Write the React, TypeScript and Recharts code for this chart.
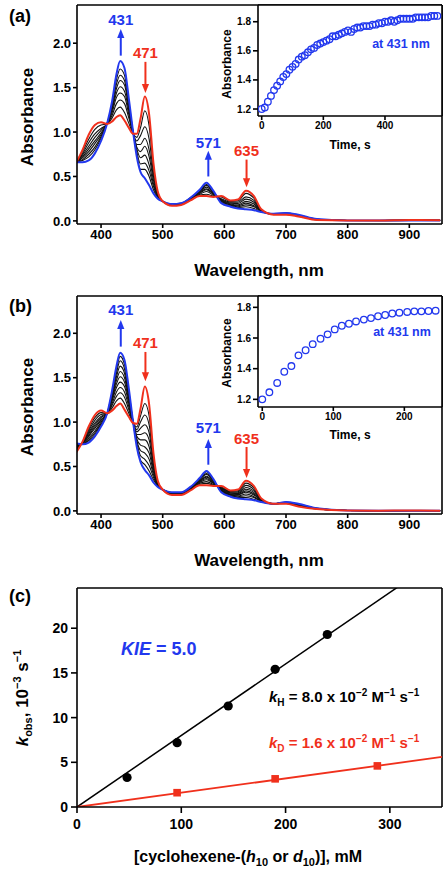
import React from 'react'
import {
  ComposedChart, LineChart, Line, Scatter, XAxis, YAxis,
  ReferenceLine, ReferenceDot, CartesianGrid,
} from 'recharts'

const FONT = '"Liberation Sans", Arial, Helvetica, sans-serif'
const BLUE = '#2238ee'
const RED = '#f0301c'

// wavelength grid, nm
const wavelengths = [360, 370, 380, 390, 400, 410, 418, 425, 431, 438, 445, 452, 458, 464, 471, 478, 485, 492, 500, 515, 530, 545, 560, 571, 582, 595, 610, 622, 635, 648, 660, 680, 700, 720, 750, 800, 850, 900, 950]

// (a) spectra: start (red), end (blue), intermediate scans (black)
const aRed = [0.66, 0.80, 0.97, 1.08, 1.11, 1.09, 1.12, 1.17, 1.19, 1.13, 1.05, 0.98, 0.98, 1.15, 1.40, 1.20, 0.65, 0.33, 0.22, 0.17, 0.18, 0.23, 0.28, 0.28, 0.27, 0.28, 0.23, 0.24, 0.34, 0.28, 0.13, 0.07, 0.07, 0.05, 0.01, 0.005, 0.005, 0.01, 0.008]
const aBlue = [0.66, 0.66, 0.68, 0.76, 0.90, 1.10, 1.35, 1.65, 1.80, 1.72, 1.38, 1.00, 0.72, 0.55, 0.48, 0.40, 0.31, 0.25, 0.22, 0.19, 0.20, 0.26, 0.35, 0.43, 0.34, 0.20, 0.16, 0.14, 0.13, 0.12, 0.10, 0.08, 0.09, 0.07, 0.02, 0.004, 0.003, 0.003, 0.003]
const aScan1 = [0.66, 0.68, 0.72, 0.80, 0.93, 1.10, 1.32, 1.59, 1.71, 1.64, 1.34, 1.00, 0.75, 0.58, 0.58, 0.50, 0.35, 0.26, 0.22, 0.19, 0.20, 0.26, 0.34, 0.41, 0.33, 0.21, 0.17, 0.15, 0.16, 0.14, 0.10, 0.08, 0.087, 0.067, 0.019, 0.004, 0.003, 0.004, 0.004]
const aScan2 = [0.66, 0.69, 0.75, 0.83, 0.95, 1.10, 1.30, 1.54, 1.64, 1.58, 1.30, 1.00, 0.78, 0.64, 0.65, 0.56, 0.39, 0.27, 0.22, 0.185, 0.195, 0.25, 0.33, 0.40, 0.32, 0.22, 0.18, 0.16, 0.18, 0.16, 0.107, 0.078, 0.085, 0.065, 0.018, 0.004, 0.004, 0.005, 0.005]
const aScan3 = [0.66, 0.71, 0.78, 0.87, 0.97, 1.10, 1.27, 1.49, 1.58, 1.53, 1.27, 1.00, 0.81, 0.71, 0.74, 0.63, 0.42, 0.28, 0.22, 0.183, 0.193, 0.25, 0.33, 0.38, 0.32, 0.23, 0.18, 0.17, 0.20, 0.17, 0.11, 0.077, 0.083, 0.063, 0.017, 0.004, 0.004, 0.006, 0.005]
const aScan4 = [0.66, 0.72, 0.81, 0.90, 0.99, 1.10, 1.25, 1.44, 1.51, 1.46, 1.24, 0.99, 0.83, 0.78, 0.84, 0.72, 0.46, 0.29, 0.22, 0.18, 0.19, 0.245, 0.32, 0.36, 0.31, 0.235, 0.19, 0.18, 0.22, 0.19, 0.113, 0.076, 0.081, 0.061, 0.016, 0.005, 0.004, 0.007, 0.006]
const aScan5 = [0.66, 0.74, 0.84, 0.94, 1.02, 1.095, 1.22, 1.39, 1.44, 1.40, 1.20, 0.99, 0.86, 0.86, 0.93, 0.80, 0.50, 0.30, 0.22, 0.18, 0.19, 0.24, 0.31, 0.35, 0.30, 0.24, 0.20, 0.195, 0.245, 0.21, 0.117, 0.075, 0.079, 0.059, 0.015, 0.005, 0.004, 0.008, 0.006]
const aScan6 = [0.66, 0.755, 0.88, 0.98, 1.04, 1.09, 1.19, 1.32, 1.36, 1.32, 1.16, 0.985, 0.90, 0.96, 1.06, 0.92, 0.54, 0.31, 0.22, 0.176, 0.186, 0.24, 0.30, 0.33, 0.29, 0.25, 0.21, 0.21, 0.27, 0.23, 0.12, 0.073, 0.076, 0.056, 0.013, 0.005, 0.005, 0.008, 0.007]
const aScan7 = [0.66, 0.78, 0.92, 1.03, 1.08, 1.09, 1.16, 1.25, 1.28, 1.22, 1.10, 0.98, 0.94, 1.05, 1.24, 1.07, 0.60, 0.32, 0.22, 0.173, 0.183, 0.235, 0.29, 0.30, 0.28, 0.27, 0.22, 0.225, 0.31, 0.255, 0.125, 0.072, 0.073, 0.053, 0.012, 0.005, 0.005, 0.009, 0.008]

// (a) inset: absorbance at 431 nm vs time
const aTime = [0, 10, 20, 30, 40, 50, 60, 70, 80, 90, 100, 110, 120, 130, 140, 150, 160, 170, 180, 190, 200, 210, 220, 230, 240, 250, 260, 270, 280, 290, 300, 310, 320, 330, 340, 350, 360, 370, 380, 390, 400, 410, 420, 430, 440, 450, 460, 470, 480, 490, 500, 510, 520, 530, 540, 550, 560, 570]
const aAbs431 = [1.20, 1.21, 1.25, 1.29, 1.33, 1.36, 1.39, 1.42, 1.44, 1.47, 1.49, 1.51, 1.54, 1.56, 1.57, 1.59, 1.61, 1.62, 1.64, 1.65, 1.66, 1.67, 1.68, 1.70, 1.70, 1.71, 1.72, 1.73, 1.74, 1.73, 1.75, 1.76, 1.76, 1.77, 1.77, 1.77, 1.78, 1.78, 1.79, 1.79, 1.80, 1.80, 1.81, 1.80, 1.81, 1.82, 1.82, 1.82, 1.82, 1.82, 1.83, 1.83, 1.83, 1.83, 1.83, 1.84, 1.84, 1.84]

// (b) spectra
const bRed = [0.66, 0.78, 0.95, 1.08, 1.13, 1.10, 1.13, 1.18, 1.21, 1.14, 1.06, 0.99, 0.98, 1.15, 1.40, 1.20, 0.65, 0.34, 0.24, 0.18, 0.18, 0.23, 0.29, 0.29, 0.28, 0.28, 0.23, 0.24, 0.34, 0.28, 0.14, 0.08, 0.08, 0.05, 0.02, 0.005, 0.003, 0.005, 0.003]
const bBlue = [0.76, 0.75, 0.77, 0.84, 0.95, 1.10, 1.36, 1.63, 1.78, 1.70, 1.38, 1.00, 0.72, 0.55, 0.46, 0.40, 0.32, 0.27, 0.24, 0.21, 0.21, 0.27, 0.37, 0.45, 0.36, 0.21, 0.16, 0.14, 0.13, 0.12, 0.10, 0.08, 0.10, 0.08, 0.03, 0.005, 0.003, 0.003, 0.003]
const bScan1 = [0.75, 0.75, 0.79, 0.86, 0.97, 1.10, 1.34, 1.59, 1.74, 1.65, 1.35, 1.00, 0.74, 0.57, 0.52, 0.45, 0.35, 0.28, 0.24, 0.207, 0.207, 0.266, 0.36, 0.44, 0.35, 0.22, 0.17, 0.15, 0.15, 0.13, 0.10, 0.08, 0.098, 0.077, 0.029, 0.005, 0.003, 0.003, 0.003]
const bScan2 = [0.74, 0.755, 0.80, 0.88, 0.98, 1.10, 1.32, 1.55, 1.69, 1.60, 1.32, 1.00, 0.77, 0.62, 0.58, 0.51, 0.38, 0.28, 0.24, 0.205, 0.205, 0.263, 0.355, 0.42, 0.345, 0.22, 0.17, 0.16, 0.17, 0.15, 0.107, 0.08, 0.096, 0.075, 0.028, 0.005, 0.003, 0.003, 0.003]
const bScan3 = [0.73, 0.76, 0.82, 0.90, 1.00, 1.10, 1.30, 1.51, 1.63, 1.55, 1.29, 1.00, 0.79, 0.68, 0.65, 0.58, 0.41, 0.29, 0.24, 0.20, 0.20, 0.26, 0.35, 0.41, 0.34, 0.23, 0.18, 0.17, 0.19, 0.16, 0.11, 0.08, 0.095, 0.072, 0.027, 0.005, 0.003, 0.003, 0.003]
const bScan4 = [0.72, 0.76, 0.84, 0.93, 1.02, 1.10, 1.28, 1.47, 1.57, 1.50, 1.27, 1.00, 0.81, 0.74, 0.72, 0.65, 0.44, 0.30, 0.24, 0.20, 0.20, 0.255, 0.34, 0.39, 0.33, 0.235, 0.185, 0.18, 0.21, 0.18, 0.115, 0.08, 0.093, 0.069, 0.026, 0.005, 0.003, 0.004, 0.003]
const bScan5 = [0.715, 0.765, 0.85, 0.95, 1.03, 1.10, 1.26, 1.43, 1.51, 1.45, 1.24, 0.995, 0.84, 0.80, 0.80, 0.72, 0.47, 0.30, 0.24, 0.197, 0.197, 0.252, 0.334, 0.38, 0.32, 0.24, 0.19, 0.185, 0.225, 0.19, 0.118, 0.08, 0.091, 0.067, 0.025, 0.005, 0.003, 0.004, 0.003]
const bScan6 = [0.705, 0.765, 0.87, 0.97, 1.05, 1.10, 1.24, 1.39, 1.45, 1.40, 1.21, 0.995, 0.86, 0.86, 0.88, 0.80, 0.50, 0.31, 0.24, 0.194, 0.194, 0.248, 0.327, 0.364, 0.317, 0.248, 0.198, 0.194, 0.243, 0.206, 0.122, 0.08, 0.089, 0.064, 0.025, 0.005, 0.003, 0.004, 0.003]
const bScan7 = [0.696, 0.77, 0.885, 0.99, 1.065, 1.10, 1.21, 1.34, 1.39, 1.34, 1.175, 0.99, 0.89, 0.93, 0.97, 0.88, 0.53, 0.315, 0.24, 0.19, 0.19, 0.245, 0.32, 0.35, 0.31, 0.255, 0.205, 0.204, 0.264, 0.222, 0.126, 0.08, 0.087, 0.061, 0.024, 0.005, 0.003, 0.004, 0.003]
const bScan8 = [0.685, 0.77, 0.905, 1.02, 1.085, 1.10, 1.19, 1.29, 1.33, 1.28, 1.14, 0.99, 0.915, 1.00, 1.08, 0.97, 0.57, 0.32, 0.24, 0.188, 0.188, 0.24, 0.31, 0.33, 0.30, 0.262, 0.212, 0.215, 0.287, 0.24, 0.13, 0.08, 0.085, 0.058, 0.022, 0.005, 0.003, 0.005, 0.003]
const bScan9 = [0.673, 0.776, 0.927, 1.05, 1.107, 1.10, 1.16, 1.24, 1.27, 1.21, 1.10, 0.99, 0.946, 1.07, 1.21, 1.07, 0.61, 0.33, 0.24, 0.184, 0.184, 0.235, 0.30, 0.31, 0.29, 0.27, 0.22, 0.227, 0.313, 0.26, 0.135, 0.08, 0.083, 0.054, 0.021, 0.005, 0.003, 0.005, 0.003]

// (b) inset
const bTime = [0, 10, 21, 31, 41, 51, 61, 71, 82, 92, 102, 112, 122, 132, 143, 153, 163, 173, 183, 193, 204, 214, 224, 234, 244]
const bAbs431 = [1.20, 1.246, 1.307, 1.38, 1.417, 1.487, 1.52, 1.56, 1.595, 1.624, 1.656, 1.68, 1.693, 1.708, 1.72, 1.73, 1.742, 1.75, 1.76, 1.765, 1.77, 1.774, 1.774, 1.776, 1.778]

// (c) kobs vs [cyclohexene], mM / 10^-3 s^-1
const concH = [48, 96, 145, 190, 240]
const kobsH = [3.3, 7.2, 11.3, 15.4, 19.3]
const concD = [96, 190, 288]
const kobsD = [1.6, 3.15, 4.6]
const slopeH = 0.080 // kH = 8.0 x 10^-2 M^-1 s^-1
const slopeD = 0.016 // kD = 1.6 x 10^-2 M^-1 s^-1
const concSpan = [0, 350]

const wlTicks = [400, 500, 600, 700, 800, 900]
const absTicks = [0, 0.5, 1.0, 1.5, 2.0]
const insetAbsTicks = [1.2, 1.4, 1.6, 1.8]
const concTicks = [0, 100, 200, 300]
const kobsTicks = [0, 5, 10, 15, 20]

const axisStroke = { stroke: '#000', strokeWidth: 1.6 }
const tickFont = { fill: '#000', fontSize: 13, fontWeight: 700, fontFamily: FONT }
const smallTick = { fill: '#000', fontSize: 10, fontWeight: 700, fontFamily: FONT }
const WL_DOMAIN = [361, 953]

function specRows(red: number[], blue: number[], scans: number[][]) {
  return wavelengths.map((wl, i) => {
    const row: any = { wl, red: red[i], blue: blue[i] }
    scans.forEach((s, j) => { row['s' + j] = s[i] })
    return row
  })
}

const arrowHead = (color: string, up: boolean) => (p: any) => {
  const { cx, cy } = p
  const h = up ? 9 : -9
  return <path d={`M${cx},${cy} L${cx - 3.6},${cy + h} L${cx + 3.6},${cy + h} Z`} fill={color} />
}

const peakText = (color: string, label: string) => (p: any) => (
  <text x={p.cx} y={p.cy} textAnchor="middle" dominantBaseline="central" fill={color}
    fontSize={15} fontWeight={700} fontFamily={FONT}>{label}</text>
)

interface PeakArrow { x: number; label: string; color: string; up: boolean; from: number; tip: number; text: number }

const arrowsA: PeakArrow[] = [
  { x: 432, label: '431', color: BLUE, up: true, from: 1.86, tip: 2.16, text: 2.27 },
  { x: 472, label: '471', color: RED, up: false, from: 1.79, tip: 1.44, text: 1.89 },
  { x: 574, label: '571', color: BLUE, up: true, from: 0.50, tip: 0.79, text: 0.88 },
  { x: 636, label: '635', color: RED, up: false, from: 0.69, tip: 0.38, text: 0.79 },
]
const arrowsB: PeakArrow[] = [
  { x: 432, label: '431', color: BLUE, up: true, from: 1.85, tip: 2.15, text: 2.27 },
  { x: 472, label: '471', color: RED, up: false, from: 1.79, tip: 1.46, text: 1.90 },
  { x: 574, label: '571', color: BLUE, up: true, from: 0.52, tip: 0.81, text: 0.94 },
  { x: 636, label: '635', color: RED, up: false, from: 0.72, tip: 0.37, text: 0.82 },
]

function SpectraPanel({ top, plotTop, red, blue, scans, arrows, yMax }: any) {
  const rows = specRows(red, blue, scans)
  const yDomain = [-0.035, yMax]
  return (
    <div style={{ position: 'absolute', left: 0, top }}>
      <LineChart width={448} height={290} data={rows} margin={{ top: plotTop, right: 6, bottom: 36, left: 27 }}>
        <XAxis type="number" dataKey="wl" domain={WL_DOMAIN} allowDataOverflow ticks={wlTicks} interval={0}
          tick={tickFont} tickSize={4} tickMargin={2} height={30} axisLine={axisStroke} tickLine={axisStroke} />
        <YAxis type="number" domain={yDomain} allowDataOverflow ticks={absTicks} interval={0} width={50}
          tickFormatter={(v: number) => v.toFixed(1)} tick={tickFont} tickSize={4} tickMargin={2}
          axisLine={axisStroke} tickLine={axisStroke} />
        <ReferenceLine x={WL_DOMAIN[1]} stroke="#000" strokeWidth={1.6} ifOverflow="visible" />
        <ReferenceLine y={yMax} stroke="#000" strokeWidth={1.6} ifOverflow="visible" />
        {scans.map((_: any, j: number) => (
          <Line key={j} type="monotone" dataKey={'s' + j} stroke="#111" strokeWidth={1.1} dot={false} isAnimationActive={false} />
        ))}
        <Line type="monotone" dataKey="blue" stroke={BLUE} strokeWidth={2} dot={false} isAnimationActive={false} />
        <Line type="monotone" dataKey="red" stroke={RED} strokeWidth={2} dot={false} isAnimationActive={false} />
        {arrows.map((a: PeakArrow) => (
          <React.Fragment key={a.label}>
            <ReferenceLine segment={[{ x: a.x, y: a.from }, { x: a.x, y: a.up ? a.tip - 0.06 : a.tip + 0.06 }]}
              stroke={a.color} strokeWidth={2} ifOverflow="visible" />
            <ReferenceDot x={a.x} y={a.tip} shape={arrowHead(a.color, a.up)} ifOverflow="visible" />
            <ReferenceDot x={a.x} y={a.text} shape={peakText(a.color, a.label)} ifOverflow="visible" />
          </React.Fragment>
        ))}
      </LineChart>
    </div>
  )
}

const openCircle = (p: any) => (
  <circle cx={p.cx} cy={p.cy} r={3.3} fill="none" stroke={BLUE} strokeWidth={1.3} />
)

function KineticsInset({ top, plotTop, time, abs, xDomain, xTicks, yDomain, bottom }: any) {
  const rows = time.map((t: number, i: number) => ({ t, a: abs[i] }))
  return (
    <div style={{ position: 'absolute', left: 0, top }}>
      <ComposedChart width={448} height={160} margin={{ top: plotTop, right: 6, bottom, left: 218 }}>
        <CartesianGrid fill="#fff" fillOpacity={1} horizontal={false} vertical={false} />
        <XAxis type="number" dataKey="t" domain={xDomain} allowDataOverflow ticks={xTicks} interval={0}
          tick={smallTick} tickSize={4} tickMargin={2} height={20} axisLine={axisStroke} tickLine={axisStroke} />
        <YAxis type="number" dataKey="a" domain={yDomain} allowDataOverflow ticks={insetAbsTicks} interval={0}
          tickFormatter={(v: number) => v.toFixed(1)} width={40} tick={smallTick} tickSize={5} tickMargin={2}
          axisLine={axisStroke} tickLine={axisStroke} />
        <ReferenceLine x={xDomain[1]} stroke="#000" strokeWidth={1.6} ifOverflow="visible" />
        <ReferenceLine y={yDomain[1]} stroke="#000" strokeWidth={1.6} ifOverflow="visible" />
        <Scatter data={rows} shape={openCircle} isAnimationActive={false} />
      </ComposedChart>
    </div>
  )
}

const dotShape = (p: any) => <circle cx={p.cx} cy={p.cy} r={4.6} fill="#000" />
const squareShape = (p: any) => <rect x={p.cx - 3.8} y={p.cy - 3.8} width={7.6} height={7.6} fill={RED} />

function KineticsPanel() {
  const ptsH = concH.map((x, i) => ({ x, y: kobsH[i] }))
  const ptsD = concD.map((x, i) => ({ x, y: kobsD[i] }))
  const fitH = concSpan.map((x) => ({ x, y: slopeH * x }))
  const fitD = concSpan.map((x) => ({ x, y: slopeD * x }))
  const big = { ...tickFont, fontSize: 14 }
  return (
    <div style={{ position: 'absolute', left: 0, top: 580 }}>
      <ComposedChart width={448} height={293} margin={{ top: 8, right: 6, bottom: 36, left: 27 }}>
        <XAxis type="number" dataKey="x" domain={concSpan} allowDataOverflow ticks={concTicks} interval={0}
          tick={big} tickSize={6} tickMargin={6} height={30} axisLine={axisStroke} tickLine={axisStroke} />
        <YAxis type="number" dataKey="y" domain={[0, 24.5]} allowDataOverflow ticks={kobsTicks} interval={0}
          width={50} tick={big} tickSize={6} tickMargin={3} axisLine={axisStroke} tickLine={axisStroke} />
        <ReferenceLine x={concSpan[1]} stroke="#000" strokeWidth={1.6} ifOverflow="visible" />
        <ReferenceLine y={24.5} stroke="#000" strokeWidth={1.6} ifOverflow="visible" />
        <Line data={fitH} dataKey="y" type="linear" stroke="#000" strokeWidth={1.5} dot={false} isAnimationActive={false} />
        <Line data={fitD} dataKey="y" type="linear" stroke={RED} strokeWidth={1.8} dot={false} isAnimationActive={false} />
        <Scatter data={ptsH} shape={dotShape} isAnimationActive={false} />
        <Scatter data={ptsD} shape={squareShape} isAnimationActive={false} />
      </ComposedChart>
    </div>
  )
}

function Annotations() {
  const sup = { fontSize: 10 }
  return (
    <svg width={448} height={873} style={{ position: 'absolute', left: 0, top: 0, pointerEvents: 'none' }}
      fontFamily={FONT} fontWeight={700}>
      {/* panel a */}
      <text x={9} y={22} fontSize={18}>(a)</text>
      <text transform="translate(33,117) rotate(-90)" textAnchor="middle" fontSize={17}>Absorbance</text>
      <text x={259} y={276} textAnchor="middle" fontSize={17}>Wavelength, nm</text>
      <text transform="translate(231,64) rotate(-90)" textAnchor="middle" fontSize={12}>Absorbance</text>
      <text x={350} y={149} textAnchor="middle" fontSize={12}>Time, s</text>
      <text x={401} y={47.5} textAnchor="middle" fontSize={12.5} fill={BLUE}>at 431 nm</text>
      {/* panel b */}
      <text x={9} y={312} fontSize={18}>(b)</text>
      <text transform="translate(33,407) rotate(-90)" textAnchor="middle" fontSize={17}>Absorbance</text>
      <text x={259} y={566} textAnchor="middle" fontSize={17}>Wavelength, nm</text>
      <text transform="translate(231,353) rotate(-90)" textAnchor="middle" fontSize={12}>Absorbance</text>
      <text x={350} y={439} textAnchor="middle" fontSize={12}>Time, s</text>
      <text x={402} y={336} textAnchor="middle" fontSize={12.5} fill={BLUE}>at 431 nm</text>
      {/* panel c */}
      <text x={9} y={602} fontSize={18}>(c)</text>
      <text transform="translate(28,698) rotate(-90)" textAnchor="middle" fontSize={17}>
        <tspan fontStyle="italic">k</tspan>
        <tspan fontSize={11} dy={4}>obs</tspan>
        <tspan dy={-4}>{', 10'}</tspan>
        <tspan fontSize={11} dy={-7}>{'\u22123'}</tspan>
        <tspan dy={7}>{' s'}</tspan>
        <tspan fontSize={11} dy={-7}>{'\u22121'}</tspan>
      </text>
      <text x={248} y={862} textAnchor="middle" fontSize={16}>
        <tspan>{'[cyclohexene-('}</tspan>
        <tspan fontStyle="italic">h</tspan>
        <tspan fontSize={11} dy={4}>10</tspan>
        <tspan dy={-4}>{' or '}</tspan>
        <tspan fontStyle="italic">d</tspan>
        <tspan fontSize={11} dy={4}>10</tspan>
        <tspan dy={-4}>{')], mM'}</tspan>
      </text>
      <text x={121} y={655} fontSize={18} fill={BLUE}>
        <tspan fontStyle="italic">KIE</tspan>
        <tspan>{' = 5.0'}</tspan>
      </text>
      <text x={269} y={701.5} fontSize={15} fill="#000">
        <tspan fontStyle="italic">k</tspan>
        <tspan {...sup} dy={4}>H</tspan>
        <tspan dy={-4}>{' = 8.0 x 10'}</tspan>
        <tspan {...sup} dy={-6}>{'\u22122'}</tspan>
        <tspan dy={6}>{' M'}</tspan>
        <tspan {...sup} dy={-6}>{'\u22121'}</tspan>
        <tspan dy={6}>{' s'}</tspan>
        <tspan {...sup} dy={-6}>{'\u22121'}</tspan>
      </text>
      <text x={269} y={747.5} fontSize={15} fill={RED}>
        <tspan fontStyle="italic">k</tspan>
        <tspan {...sup} dy={4}>D</tspan>
        <tspan dy={-4}>{' = 1.6 x 10'}</tspan>
        <tspan {...sup} dy={-6}>{'\u22122'}</tspan>
        <tspan dy={6}>{' M'}</tspan>
        <tspan {...sup} dy={-6}>{'\u22121'}</tspan>
        <tspan dy={6}>{' s'}</tspan>
        <tspan {...sup} dy={-6}>{'\u22121'}</tspan>
      </text>
    </svg>
  )
}

export default function App() {
  return (
    <div style={{ position: 'absolute', left: 0, top: 0, width: 448, height: 873, background: '#fff', fontFamily: FONT }}>
      <SpectraPanel top={0} plotTop={5} yMax={2.43} red={aRed} blue={aBlue}
        scans={[aScan1, aScan2, aScan3, aScan4, aScan5, aScan6, aScan7]} arrows={arrowsA} />
      <KineticsInset top={0} plotTop={5} bottom={24} time={aTime} abs={aAbs431}
        xDomain={[-12, 585]} xTicks={[0, 200, 400]} yDomain={[1.152, 1.915]} />
      <SpectraPanel top={290} plotTop={6} yMax={2.42} red={bRed} blue={bBlue}
        scans={[bScan1, bScan2, bScan3, bScan4, bScan5, bScan6, bScan7, bScan8, bScan9]} arrows={arrowsB} />
      <KineticsInset top={290} plotTop={6} bottom={23} time={bTime} abs={bAbs431}
        xDomain={[-6, 253]} xTicks={[0, 100, 200]} yDomain={[1.15, 1.874]} />
      <KineticsPanel />
      <Annotations />
    </div>
  )
}
